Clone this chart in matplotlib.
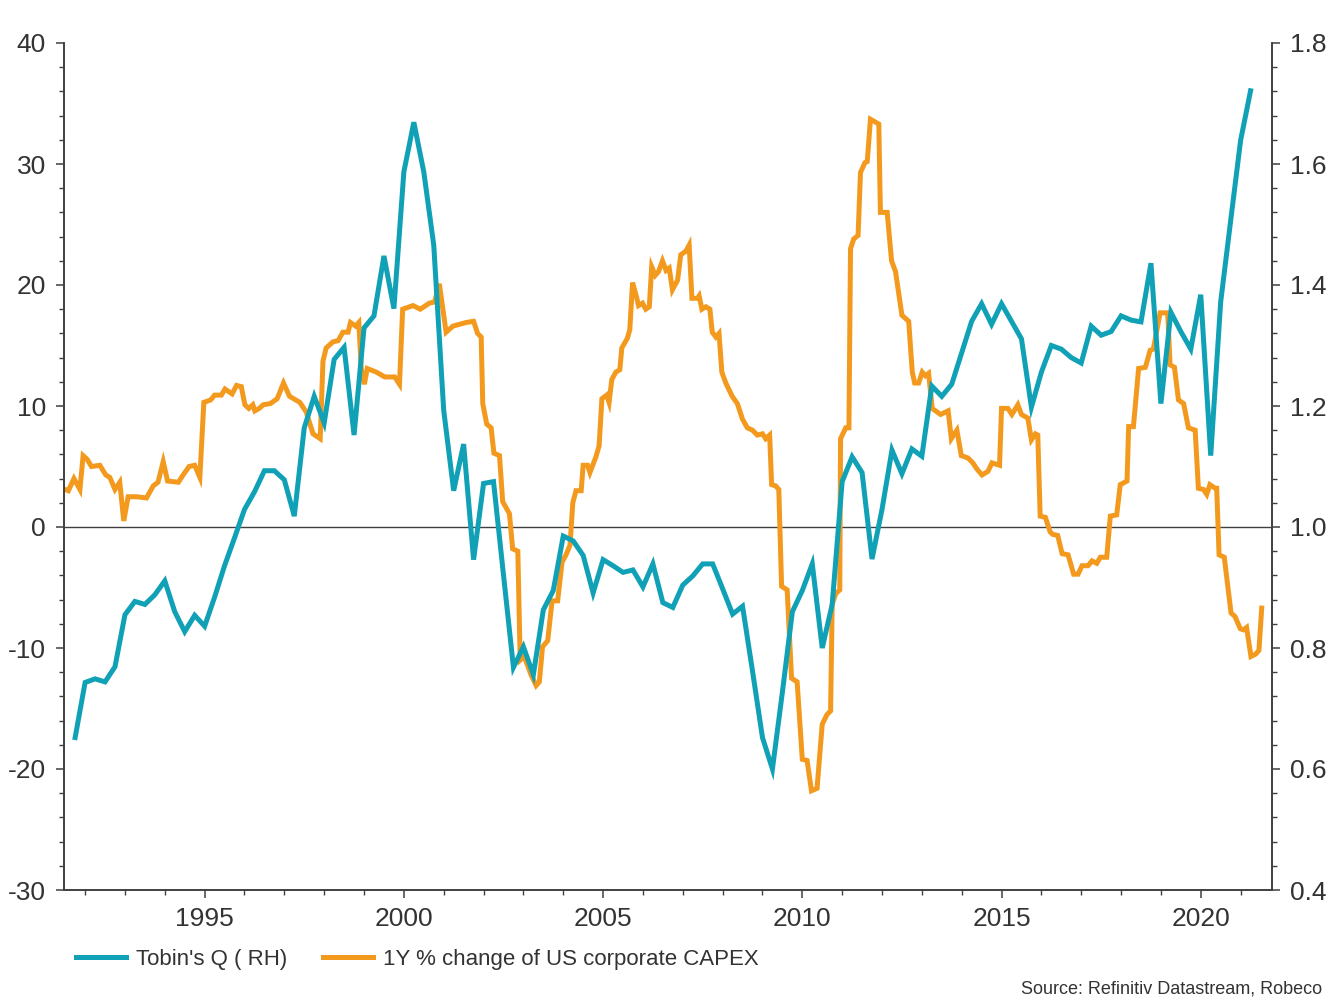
import matplotlib
matplotlib.use("Agg")
import matplotlib.pyplot as plt
from matplotlib.ticker import MultipleLocator, FormatStrFormatter

plt.rcParams['font.family'] = ['Liberation Sans', 'DejaVu Sans']
plt.rcParams['axes.unicode_minus'] = False

# Tobin's Q (right axis), quarterly from 1991 Q4
tobin_start = 1991.75
tobin_q = [
    0.652, 0.743, 0.749, 0.744, 0.769, 0.855, 0.877, 0.872, 0.888, 0.911,
    0.860, 0.827, 0.854, 0.836, 0.884, 0.936, 0.982, 1.029, 1.058, 1.093,
    1.093, 1.078, 1.018, 1.164, 1.216, 1.172, 1.277, 1.297, 1.152, 1.329,
    1.349, 1.448, 1.361, 1.587, 1.669, 1.587, 1.466, 1.193, 1.060, 1.137,
    0.946, 1.072, 1.075, 0.921, 0.768, 0.802, 0.756, 0.863, 0.895, 0.985,
    0.977, 0.953, 0.891, 0.946, 0.936, 0.925, 0.929, 0.901, 0.939, 0.875,
    0.867, 0.904, 0.919, 0.939, 0.939, 0.898, 0.856, 0.869, 0.762, 0.652,
    0.600, 0.727, 0.860, 0.895, 0.939, 0.800, 0.872, 1.075, 1.116, 1.090,
    0.947, 1.029, 1.127, 1.088, 1.129, 1.117, 1.233, 1.216, 1.236, 1.288,
    1.340, 1.369, 1.335, 1.369, 1.340, 1.311, 1.198, 1.256, 1.300, 1.294,
    1.280, 1.271, 1.332, 1.317, 1.323, 1.349, 1.342, 1.339, 1.436, 1.204,
    1.355, 1.323, 1.294, 1.384, 1.118, 1.372, 1.506, 1.639, 1.721,
]
tobin_dates = [tobin_start + i / 4 for i in range(len(tobin_q))]

# 1Y % change of US corporate CAPEX (left axis)
capex_dates = [
    1991.50, 1991.58, 1991.72, 1991.87, 1991.95, 1992.05, 1992.16, 1992.37, 1992.52, 1992.62,
    1992.75, 1992.87, 1992.97, 1993.08, 1993.29, 1993.54, 1993.71, 1993.83, 1993.96, 1994.07,
    1994.34, 1994.46, 1994.61, 1994.75, 1994.88, 1994.98, 1995.15, 1995.25, 1995.42, 1995.51,
    1995.69, 1995.80, 1995.92, 1996.01, 1996.11, 1996.21, 1996.26, 1996.37, 1996.47, 1996.65,
    1996.82, 1996.98, 1997.13, 1997.39, 1997.55, 1997.72, 1997.90, 1997.97, 1998.05, 1998.22,
    1998.35, 1998.47, 1998.60, 1998.66, 1998.79, 1998.87, 1998.93, 1999.01, 1999.08, 1999.31,
    1999.52, 1999.77, 1999.89, 1999.97, 2000.14, 2000.23, 2000.41, 2000.64, 2000.77, 2000.89,
    2001.06, 2001.23, 2001.56, 2001.75, 2001.85, 2001.94, 2001.98, 2002.08, 2002.19, 2002.26,
    2002.40, 2002.48, 2002.65, 2002.73, 2002.86, 2002.92, 2003.02, 2003.19, 2003.32, 2003.40,
    2003.48, 2003.61, 2003.72, 2003.86, 2003.97, 2004.07, 2004.17, 2004.24, 2004.32, 2004.45,
    2004.50, 2004.61, 2004.67, 2004.82, 2004.90, 2004.97, 2005.09, 2005.15, 2005.22, 2005.32,
    2005.42, 2005.47, 2005.61, 2005.67, 2005.74, 2005.84, 2005.89, 2005.99, 2006.07, 2006.16,
    2006.22, 2006.31, 2006.39, 2006.49, 2006.58, 2006.66, 2006.74, 2006.87, 2006.95, 2007.08,
    2007.16, 2007.23, 2007.37, 2007.41, 2007.48, 2007.58, 2007.68, 2007.74, 2007.83, 2007.91,
    2007.98, 2008.08, 2008.24, 2008.37, 2008.50, 2008.62, 2008.75, 2008.87, 2009.00, 2009.08,
    2009.18, 2009.23, 2009.33, 2009.41, 2009.48, 2009.62, 2009.73, 2009.87, 2010.00, 2010.12,
    2010.23, 2010.37, 2010.50, 2010.62, 2010.71, 2010.75, 2010.84, 2010.94, 2010.96, 2011.09,
    2011.17, 2011.21, 2011.29, 2011.40, 2011.46, 2011.57, 2011.63, 2011.71, 2011.92, 2011.96,
    2012.13, 2012.24, 2012.34, 2012.50, 2012.67, 2012.76, 2012.82, 2012.92, 2013.01, 2013.09,
    2013.17, 2013.26, 2013.47, 2013.66, 2013.74, 2013.88, 2013.99, 2014.16, 2014.28, 2014.38,
    2014.51, 2014.66, 2014.76, 2014.95, 2015.00, 2015.16, 2015.26, 2015.41, 2015.50, 2015.66,
    2015.75, 2015.85, 2015.91, 2015.97, 2016.10, 2016.22, 2016.28, 2016.41, 2016.52, 2016.67,
    2016.81, 2016.92, 2017.02, 2017.17, 2017.27, 2017.39, 2017.48, 2017.64, 2017.73, 2017.89,
    2017.98, 2018.15, 2018.19, 2018.31, 2018.44, 2018.61, 2018.73, 2018.81, 2018.98, 2019.17,
    2019.23, 2019.34, 2019.44, 2019.57, 2019.69, 2019.86, 2019.94, 2020.07, 2020.15, 2020.23,
    2020.36, 2020.40, 2020.46, 2020.59, 2020.76, 2020.86, 2020.99, 2021.07, 2021.15, 2021.26,
    2021.38, 2021.46, 2021.53,
]
capex_chg = [
    3.1, 3.0, 4.0, 3.1, 5.9, 5.6, 5.0, 5.1, 4.3, 4.1,
    3.1, 3.7, 0.5, 2.5, 2.5, 2.4, 3.4, 3.7, 5.4, 3.8,
    3.7, 4.3, 5.0, 5.1, 4.1, 10.3, 10.5, 10.9, 10.9, 11.4,
    11.0, 11.7, 11.6, 10.1, 9.8, 10.1, 9.6, 9.8, 10.1, 10.2,
    10.6, 11.9, 10.8, 10.3, 9.5, 7.7, 7.3, 13.7, 14.8, 15.3,
    15.4, 16.1, 16.1, 16.9, 16.6, 16.9, 13.1, 11.8, 13.1, 12.8,
    12.4, 12.4, 11.8, 18.0, 18.2, 18.3, 18.0, 18.5, 18.6, 20.1,
    16.1, 16.6, 16.9, 17.0, 16.0, 15.7, 10.2, 8.5, 8.2, 6.1,
    5.9, 2.1, 1.1, -1.8, -2.0, -11.0, -10.7, -12.2, -13.1, -12.8,
    -9.9, -9.4, -6.1, -6.1, -2.9, -2.3, -1.5, 2.0, 3.0, 3.0,
    5.1, 5.1, 4.5, 5.8, 6.7, 10.6, 10.9, 10.3, 12.2, 12.8,
    13.0, 14.8, 15.6, 16.3, 20.2, 19.0, 18.3, 18.5, 18.0, 18.2,
    21.5, 20.8, 21.1, 22.0, 21.2, 21.4, 19.6, 20.4, 22.5, 22.8,
    23.3, 18.9, 18.9, 19.1, 18.0, 18.2, 18.0, 16.1, 15.7, 16.0,
    12.8, 11.9, 10.8, 10.2, 8.9, 8.2, 8.0, 7.6, 7.7, 7.3,
    7.6, 3.5, 3.4, 3.1, -4.9, -5.2, -12.5, -12.8, -19.2, -19.3,
    -21.8, -21.6, -16.3, -15.5, -15.2, -6.4, -5.5, -5.2, 7.3, 8.2,
    8.2, 23.0, 23.8, 24.1, 29.3, 30.1, 30.2, 33.7, 33.3, 26.0,
    26.0, 22.0, 21.1, 17.5, 17.0, 12.8, 11.9, 11.9, 12.8, 12.5,
    12.7, 9.8, 9.3, 9.6, 7.3, 8.0, 5.9, 5.7, 5.3, 4.8,
    4.3, 4.6, 5.3, 5.1, 9.8, 9.8, 9.3, 10.1, 9.3, 9.0,
    7.2, 7.7, 7.6, 0.9, 0.8, -0.4, -0.6, -0.7, -2.2, -2.3,
    -3.9, -3.9, -3.2, -3.2, -2.8, -3.0, -2.5, -2.5, 0.9, 1.0,
    3.5, 3.8, 8.3, 8.3, 13.1, 13.2, 14.6, 14.7, 17.7, 17.7,
    13.4, 13.2, 10.5, 10.2, 8.2, 8.0, 3.2, 3.1, 2.7, 3.5,
    3.2, 3.2, -2.3, -2.5, -7.1, -7.4, -8.4, -8.5, -8.3, -10.7,
    -10.5, -10.2, -6.7,
]

year_ticks = [1995, 2000, 2005, 2010, 2015, 2020]

teal = '#10A1B6'
orange = '#F39A1E'
dark = '#333333'
axis_col = '#404040'

fig = plt.figure(figsize=(13.33, 10), dpi=100)
ax = fig.add_axes([0.048, 0.110, 0.906, 0.847])
ax2 = ax.twinx()

ax.plot(capex_dates, capex_chg, color=orange, lw=3.6, solid_joinstyle='miter',
        label='1Y % change of US corporate CAPEX')
ax2.plot(tobin_dates, tobin_q, color=teal, lw=3.6, solid_joinstyle='miter',
         label="Tobin's Q ( RH)")
ax.axhline(0, color=axis_col, lw=1.0, zorder=1)

ax.set_xlim(1991.47, 2021.78)
ax.set_ylim(-30, 40)
ax2.set_ylim(0.4, 1.8)

ax.set_xticks(year_ticks)
ax.set_xticklabels([str(y) for y in year_ticks])
ax.xaxis.set_minor_locator(MultipleLocator(1))
ax.yaxis.set_major_locator(MultipleLocator(10))
ax.yaxis.set_minor_locator(MultipleLocator(2))
ax2.yaxis.set_major_locator(MultipleLocator(0.2))
ax2.yaxis.set_minor_locator(MultipleLocator(0.04))
ax2.yaxis.set_major_formatter(FormatStrFormatter('%.1f'))

for a in (ax, ax2):
    a.spines['top'].set_visible(False)
    for s in ('left', 'right', 'bottom'):
        a.spines[s].set_color(axis_col)
        a.spines[s].set_linewidth(1.2)
    a.tick_params(which='major', length=6, width=1.1, color=axis_col,
                  labelsize=19, labelcolor=dark, pad=7)
    a.tick_params(which='minor', length=3.5, width=1.0, color=axis_col)
ax.tick_params(axis='x', which='major', pad=6)

h1, l1 = ax2.get_legend_handles_labels()
h2, l2 = ax.get_legend_handles_labels()
fig.legend(h1 + h2, l1 + l2, loc='center left', bbox_to_anchor=(0.057, 0.041),
           ncol=2, frameon=False, fontsize=16, handlelength=2.25,
           handletextpad=0.45, columnspacing=1.6, borderpad=0, borderaxespad=0,
           labelcolor=dark)

fig.text(0.992, 0.002, 'Source: Refinitiv Datastream, Robeco', ha='right',
         va='bottom', fontsize=13, color=dark)

fig.savefig('out.png', dpi=100)
